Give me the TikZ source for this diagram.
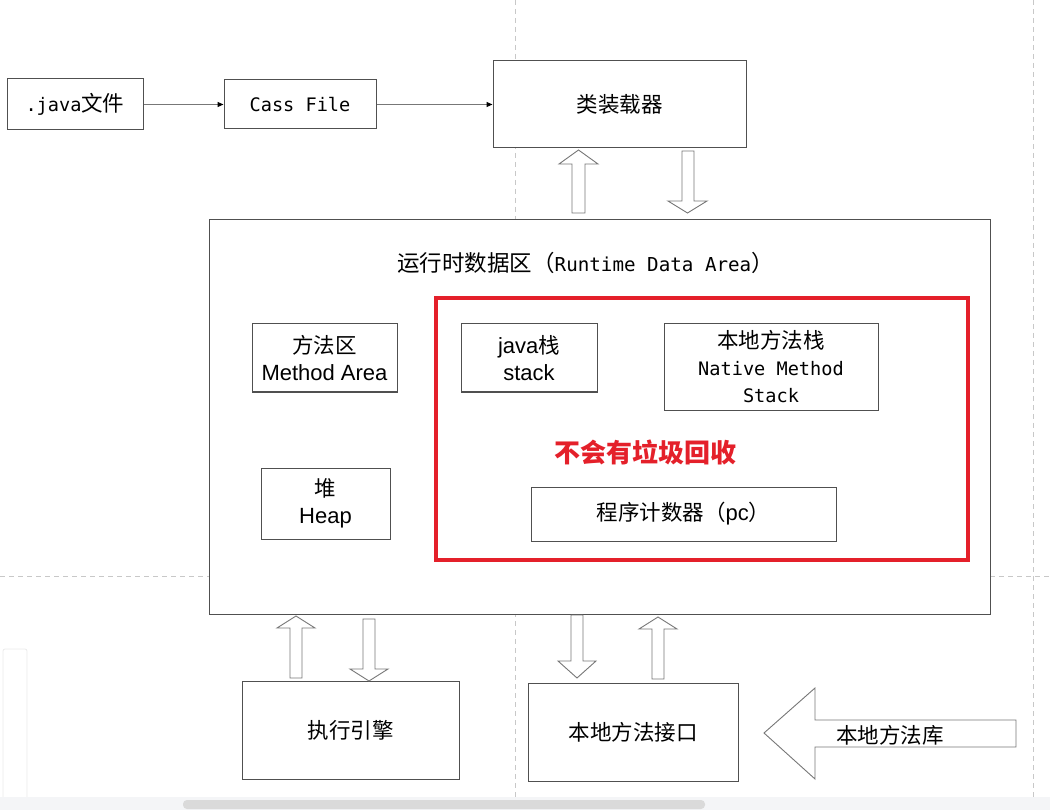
\documentclass[tikz,border=0pt]{standalone}
\usepackage{fontspec}
\setmainfont{Noto Sans CJK SC}
\newfontfamily\mono{DejaVu Sans Mono}
\newfontfamily\lat{Liberation Sans}
\usetikzlibrary{arrows.meta}
\definecolor{boxline}{HTML}{505050}
\definecolor{arrline}{HTML}{777777}
\definecolor{gridline}{HTML}{C8C8C8}
\definecolor{alertred}{HTML}{E4202A}
\definecolor{bandgray}{HTML}{F4F5F7}
\definecolor{thumbgray}{HTML}{DADADA}
\begin{document}
\begin{tikzpicture}[x=1pt,y=-1pt,
  box/.style={draw=boxline,line width=1pt,fill=white,inner sep=0pt,align=center},
  cjk/.style={font=\fontsize{21.5}{27}\selectfont},
  hol/.style={draw=arrline,line width=0.9pt,fill=white,line join=miter},
  thinarrow/.style={draw=arrline,line width=1pt,-{Triangle[length=6pt,width=5pt,color=black]}},
  grid/.style={draw=gridline,line width=0.9pt,dash pattern=on 5pt off 4pt}]
\useasboundingbox (0,0) rectangle (1050,810);
% background guide lines
\draw[grid] (515,0) -- (515,797);
\draw[grid] (1033,0) -- (1033,797);
\draw[grid] (0,576) -- (1050,576);
% faint panel and scroll band
\draw[draw=black!8,line width=0.8pt,rounded corners=2pt,fill=white] (3,649) rectangle (27,800);
\fill[bandgray] (0,797) rectangle (1050,810);
\fill[thumbgray,rounded corners=4pt] (183,800) rectangle (705,809);

% top row
\node[box,cjk,minimum width=136pt,minimum height=51pt] (java) at (75,104.5) {{\mono\fontsize{18.6}{27}\selectfont .java}文件};
\node[box,minimum width=152pt,minimum height=49pt] (cass) at (300,104.5) {\mono\fontsize{18.6}{27}\selectfont Cass File};
\node[box,cjk,minimum width=253pt,minimum height=87pt] (loader) at (619.5,104.5) {类装载器};
\draw[thinarrow] (java) -- (cass);
\draw[thinarrow] (cass) -- (loader);

% runtime data area
\node[box,minimum width=781pt,minimum height=394pt] (rt) at (599.5,417) {};
\node[inner sep=0pt,font=\fontsize{22.5}{27}\selectfont] (rttitle) at (585.5,263) {运行时数据区（{\mono\fontsize{19.2}{27}\selectfont Runtime Data Area}）};
\draw[alertred,line width=4pt] (436,298) rectangle (968,560);

\node[box,cjk,minimum width=145pt,minimum height=68pt] (method) at (324.5,358) {方法区\\{\lat\fontsize{22}{27}\selectfont Method Area}};
\node[box,cjk,minimum width=129pt,minimum height=71pt] (heap) at (325.5,503.5) {堆\\{\lat\fontsize{22}{27}\selectfont Heap}};
\node[box,cjk,minimum width=136pt,minimum height=68pt] (jstack) at (529,358) {{\lat\fontsize{22}{27}\selectfont java}栈\\{\lat\fontsize{22}{27}\selectfont stack}};
\node[box,cjk,minimum width=214pt,minimum height=86pt] (nstack) at (771,367) {本地方法栈\\{\mono\fontsize{18.6}{27}\selectfont Native Method}\\{\mono\fontsize{18.6}{27}\selectfont Stack}};
\node[inner sep=0pt,text=alertred,font=\fontsize{26}{30}\selectfont\bfseries] (nogc) at (645,452) {不会有垃圾回收};
\node[box,cjk,minimum width=305pt,minimum height=54pt] (pc) at (683.5,514) {程序计数器（{\lat\fontsize{22}{27}\selectfont pc}）};

% bottom row
\node[box,cjk,minimum width=217pt,minimum height=98pt] (engine) at (350.5,730) {执行引擎};
\node[box,cjk,minimum width=210pt,minimum height=98pt] (jni) at (633,732) {本地方法接口};

% hollow arrows: loader <-> runtime
\draw[hol] (572,213) -- (572,164) -- (559,164) -- (578.5,150) -- (598,164) -- (585,164) -- (585,213) -- cycle;
\draw[hol] (682,151) -- (682,201) -- (668,201) -- (687.5,213) -- (707,201) -- (694,201) -- (694,151) -- cycle;
% runtime <-> engine
\draw[hol] (290,678) -- (290,628) -- (277,628) -- (296,616) -- (315,628) -- (302,628) -- (302,678) -- cycle;
\draw[hol] (363,619) -- (363,669) -- (350,669) -- (369,681) -- (388,669) -- (375,669) -- (375,619) -- cycle;
% runtime <-> native interface
\draw[hol] (571,615) -- (571,661) -- (558,661) -- (577,678) -- (596,661) -- (583,661) -- (583,615) -- cycle;
\draw[hol] (652,679) -- (652,629) -- (639,629) -- (658,617) -- (677,629) -- (664,629) -- (664,679) -- cycle;
% native library arrow
\draw[hol] (1016,720) -- (815,720) -- (815,688) -- (764,733) -- (815,779) -- (815,747) -- (1016,747) -- cycle;
\node[cjk,inner sep=0pt] (nlib) at (890,735) {本地方法库};
\end{tikzpicture}
\end{document}
